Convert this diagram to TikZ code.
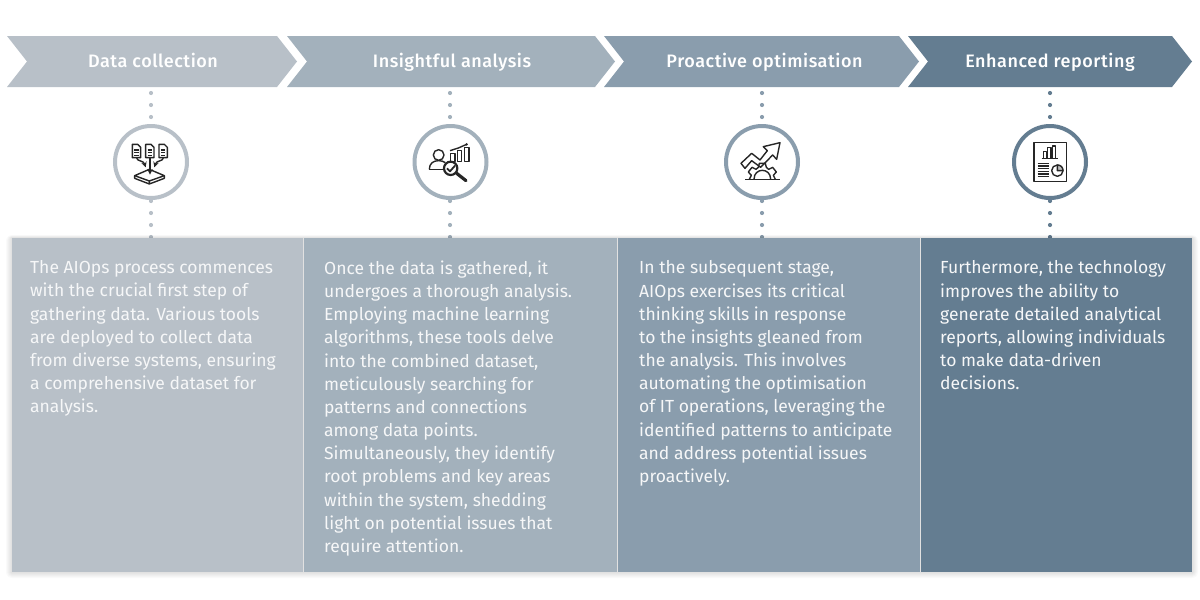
\documentclass[tikz,border=0pt]{standalone}
\usepackage{fontspec}
\setmainfont{Fira Sans}[BoldFont=Fira Sans Medium]
\usetikzlibrary{positioning}
\definecolor{stepA}{HTML}{B8C0C8}
\definecolor{stepB}{HTML}{A3B1BC}
\definecolor{stepC}{HTML}{8A9DAD}
\definecolor{stepD}{HTML}{647D91}
\definecolor{inkdark}{HTML}{262626}
\tikzset{
  head/.style={anchor=base, inner sep=0pt, text=white, font=\fontsize{18}{22}\bfseries\addfontfeatures{LetterSpace=3}},
  body/.style={anchor=north west, inner sep=0pt, align=left, text=white!94!stepD, font=\fontsize{17.5}{23.17}\selectfont},
  panel/.style={anchor=north west, inner sep=0pt, draw=none},
  ring/.style={circle, fill=white, line width=4pt, minimum size=72pt, inner sep=0pt},
  dotline/.style={line width=4.2pt, line cap=round, dash pattern=on 0pt off 12pt},
  iconline/.style={draw=inkdark, line width=1.4pt, line join=round},
  zoomed/.style={shift={#1}, x=0.3333pt, y=-0.3333pt}
}
\begin{document}
\begin{tikzpicture}[x=1pt, y=-1pt]
  \useasboundingbox (0,0) rectangle (1200,600);

  % arrows along the top
  \fill[stepA] (7,36) -- (277,36) -- (297,61.5) -- (277,87) -- (7,87) -- (27,61.5) -- cycle;
  \fill[stepB] (287,36) -- (595,36) -- (615,61.5) -- (595,87) -- (287,87) -- (307,61.5) -- cycle;
  \fill[stepC] (604,36) -- (899,36) -- (919,61.5) -- (899,87) -- (604,87) -- (624,61.5) -- cycle;
  \fill[stepD] (908,36) -- (1172,36) -- (1192,61.5) -- (1172,87) -- (908,87) -- (928,61.5) -- cycle;
  \node[head] (head1) at (153,67.5) {Data collection};
  \node[head] (head2) at (452,67.5) {Insightful analysis};
  \node[head] (head3) at (764.5,67.5) {Proactive optimisation};
  \node[head] (head4) at (1050,67.5) {Enhanced reporting};

  % dotted connectors
  \coordinate (top1) at (151,93);
  \coordinate (top2) at (450,93);
  \coordinate (top3) at (762,93);
  \coordinate (top4) at (1050,93);
  \coordinate (end1) at (151,238);
  \coordinate (end2) at (450,238);
  \coordinate (end3) at (762,238);
  \coordinate (end4) at (1050,238);
  \draw[dotline, stepA] (top1) -- (end1);
  \draw[dotline, stepB] (top2) -- (end2);
  \draw[dotline, stepC] (top3) -- (end3);
  \draw[dotline, stepD] (top4) -- (end4);

  % rings
  \node[ring, draw=stepA] (ring1) at (151,162) {};
  \node[ring, draw=stepB] (ring2) at (450.5,162) {};
  \node[ring, draw=stepC] (ring3) at (762,162) {};
  \node[ring, draw=stepD] (ring4) at (1050,162) {};

  % soft shadow under the panels
  \foreach \g in {1,...,6}
    \fill[black, opacity=0.02, rounded corners=\g pt] (12-\g,238-\g/2) rectangle (1192+\g,572+\g);

  % panels
  \node[panel, fill=stepA, minimum width=291pt, minimum height=334pt] (panel1) at (12,238) {};
  \node[panel, fill=stepB, minimum width=313pt, minimum height=334pt] (panel2) at (304,238) {};
  \node[panel, fill=stepC, minimum width=302pt, minimum height=334pt] (panel3) at (618,238) {};
  \node[panel, fill=stepD, minimum width=271pt, minimum height=334pt] (panel4) at (921,238) {};

  \node[body] (text1) at (30,260.5) {The AIOps process commences\\with the crucial first step of\\gathering data. Various tools\\are deployed to collect data\\from diverse systems, ensuring\\a comprehensive dataset for\\analysis.};
  \node[body] (text2) at (324,260.5) {Once the data is gathered, it\\undergoes a thorough analysis.\\Employing machine learning\\algorithms, these tools delve\\into the combined dataset,\\meticulously searching for\\patterns and connections\\among data points.\\Simultaneously, they identify\\root problems and key areas\\within the system, shedding\\light on potential issues that\\require attention.};
  \node[body] (text3) at (639,260.5) {In the subsequent stage,\\AIOps exercises its critical\\thinking skills in response\\to the insights gleaned from\\the analysis. This involves\\automating the optimisation\\of IT operations, leveraging the\\identified patterns to anticipate\\and address potential issues\\proactively.};
  \node[body] (text4) at (940,260.5) {Furthermore, the technology\\improves the ability to\\generate detailed analytical\\reports, allowing individuals\\to make data-driven\\decisions.};

  % icon 1
  \begin{scope}[zoomed={(100,110)}]
    \foreach \d in {0,40,80} {
      \draw[iconline] (97+\d,103) -- (113+\d,103) -- (122+\d,112) -- (122+\d,143) -- (97+\d,143) -- cycle;
      \draw[iconline] (103+\d,120) -- (116+\d,120) (103+\d,128) -- (116+\d,128) (103+\d,136) -- (116+\d,136);
    }
    \draw[iconline, ->, >=stealth] (110,143) .. controls (110,155) and (130,150) .. (137,172);
    \draw[iconline, ->, >=stealth] (150,143) -- (150,194);
    \draw[iconline, ->, >=stealth] (190,143) .. controls (190,155) and (170,150) .. (163,172);
    \draw[iconline] (104,197) -- (148,178) -- (193,197) -- (148,213) -- cycle;
    \draw[iconline] (104,197) -- (104,205) -- (148,222) -- (193,205) -- (193,197) (148,213) -- (148,222);
  \end{scope}

  % icon 2
  \begin{scope}[zoomed={(400,110)}]
    \draw[iconline] (116,135) circle (16);
    \draw[iconline] (88,178) .. controls (88,160) and (100,152) .. (116,152) .. controls (125,152) and (130,154) .. (136,158);
    \draw[iconline] (88,178) -- (128,178);
    \draw[iconline] (152,130) rectangle (165,155) (172,122) rectangle (185,155) (193,112) rectangle (207,155);
    \draw[iconline] (150,122) -- (175,114) -- (200,103);
    \fill[inkdark] (200,103) circle (4);
    \draw[draw=inkdark, fill=white, line width=2.2pt] (152,175) circle (20);
    \draw[iconline, line width=1.8pt] (141,175) -- (150,184) -- (165,167);
    \draw[draw=inkdark, line width=3.2pt, line cap=round] (170,190) -- (198,212);
  \end{scope}

  % icon 3
  \begin{scope}[zoomed={(710,110)}]
    \draw[iconline] (93,160) -- (125,130) -- (150,150) -- (172,122) -- (160,110) -- (210,98) -- (200,148) -- (188,135) -- (152,172) -- (125,152) -- (105,175) -- cycle;
    \draw[iconline] (105,208) -- (210,208);
    \draw[iconline] (118,208) -- (124,196) -- (115,186) -- (126,172) -- (138,178) -- (145,172) -- (148,160) -- (166,160) -- (169,172) -- (176,178) -- (188,172) -- (199,186) -- (190,196) -- (196,208);
    \draw[iconline] (132,208) .. controls (132,172) and (182,172) .. (182,208);
  \end{scope}

  % icon 4
  \begin{scope}[zoomed={(1000,110)}]
    \draw[iconline] (102,98) rectangle (200,215);
    \draw[iconline] (125,145) -- (175,145);
    \draw[iconline] (130,145) -- (130,125) -- (140,125) -- (140,145) (143,145) -- (143,112) -- (153,112) -- (153,145) (157,145) -- (157,108) -- (167,108) -- (167,145);
    \foreach \l in {160,168,176,184,192,200}
      \draw[iconline] (113,\l) -- (147,\l);
    \draw[iconline] (172,182) circle (17);
    \draw[iconline, fill=inkdark!30] (172,182) -- (172,165) .. controls (182,165) and (189,172) .. (189,182) -- cycle;
  \end{scope}
\end{tikzpicture}
\end{document}
